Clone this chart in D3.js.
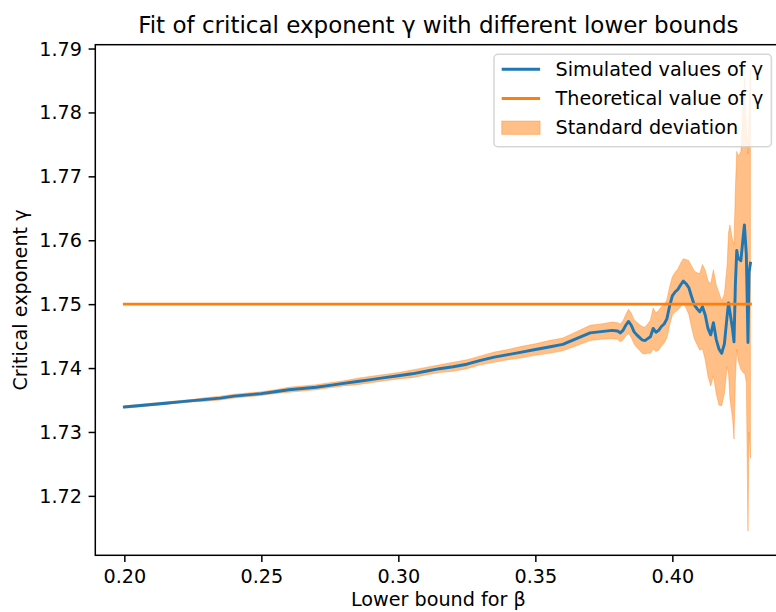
<!DOCTYPE html>
<html>
<head>
<meta charset="utf-8">
<script src="https://cdn.jsdelivr.net/npm/d3@7"></script>
<style>
  html, body { margin: 0; padding: 0; background: #ffffff; }
  svg { display: block; font-family: "DejaVu Sans", sans-serif; }
</style>
</head>
<body>
<svg id="chart" width="776" height="612"></svg>
<script>
// Lower bound of the fit window for beta
const betas = [
  0.200, 0.205, 0.210, 0.215, 0.220, 0.225, 0.230, 0.235, 0.240, 0.245,
  0.250, 0.255, 0.260, 0.265, 0.270, 0.275, 0.280, 0.285, 0.290, 0.295,
  0.300, 0.305, 0.310, 0.315, 0.320, 0.325, 0.330, 0.335, 0.340, 0.345,
  0.350, 0.355, 0.360, 0.365, 0.370, 0.374, 0.378, 0.380, 0.381, 0.382,
  0.383, 0.384, 0.385, 0.386, 0.387, 0.388, 0.389, 0.390, 0.391, 0.392,
  0.393, 0.394, 0.395, 0.396, 0.397, 0.398, 0.399, 0.400, 0.401, 0.402,
  0.403, 0.404, 0.405, 0.406, 0.407, 0.408, 0.409, 0.410, 0.411, 0.412,
  0.413, 0.414, 0.415, 0.416, 0.417, 0.418, 0.419, 0.420, 0.4205, 0.421,
  0.422, 0.4225, 0.423, 0.4235, 0.424, 0.425, 0.426, 0.4263, 0.427, 0.4276,
  0.428, 0.4285
];

// Fitted gamma for each lower bound
const gammaSim = [
  1.7339, 1.7341, 1.7343, 1.7345, 1.7347, 1.7349, 1.7351, 1.7353, 1.7356, 1.7358,
  1.7360, 1.7363, 1.7366, 1.7368, 1.7370, 1.7373, 1.7376, 1.7379, 1.7382, 1.7385,
  1.7388, 1.7391, 1.7395, 1.7399, 1.7402, 1.7406, 1.7412, 1.7417, 1.7421, 1.7425,
  1.7429, 1.7433, 1.7437, 1.7446, 1.7455, 1.7457, 1.7459, 1.7458, 1.7455, 1.7459,
  1.7467, 1.7473, 1.7467, 1.7457, 1.7452, 1.7448, 1.7444, 1.7443, 1.7446, 1.7449,
  1.7462, 1.7456, 1.7459, 1.7465, 1.7469, 1.7477, 1.7497, 1.7513, 1.7519, 1.7523,
  1.7530, 1.7536, 1.7532, 1.7526, 1.7512, 1.7499, 1.7493, 1.7488, 1.7496, 1.7483,
  1.7462, 1.7452, 1.7471, 1.7445, 1.7430, 1.7423, 1.7438, 1.7482, 1.7502, 1.7488,
  1.7460, 1.7441, 1.7530, 1.7584, 1.7572, 1.7568, 1.7612, 1.7624, 1.7578, 1.7440,
  1.7550, 1.7564
];

// Standard deviation of each fit
const gammaStd = [
  0.0002, 0.0002, 0.0002, 0.0002, 0.0002, 0.0002, 0.0003, 0.0003, 0.0003, 0.0003,
  0.0003, 0.0003, 0.0004, 0.0004, 0.0004, 0.0004, 0.0004, 0.0005, 0.0005, 0.0005,
  0.0005, 0.0006, 0.0006, 0.0006, 0.0007, 0.0007, 0.0007, 0.0008, 0.0008, 0.0009,
  0.0009, 0.0010, 0.0010, 0.0011, 0.0012, 0.0012, 0.0013, 0.0013, 0.0014, 0.0015,
  0.0017, 0.0019, 0.0019, 0.0019, 0.0020, 0.0020, 0.0021, 0.0021, 0.0023, 0.0026,
  0.0032, 0.0030, 0.0031, 0.0031, 0.0030, 0.0030, 0.0030, 0.0030, 0.0031, 0.0032,
  0.0034, 0.0035, 0.0038, 0.0042, 0.0048, 0.0053, 0.0056, 0.0060, 0.0066, 0.0070,
  0.0075, 0.0080, 0.0083, 0.0085, 0.0088, 0.0082, 0.0078, 0.0080, 0.0110, 0.0136,
  0.0140, 0.0152, 0.0150, 0.0155, 0.0160, 0.0170, 0.0220, 0.0230, 0.0200, 0.0295,
  0.0250, 0.0305
];

const gammaTheory = 1.75;

const xTicks = [0.20, 0.25, 0.30, 0.35, 0.40];
const yTicks = [1.72, 1.73, 1.74, 1.75, 1.76, 1.77, 1.78, 1.79];

const titleText = "Fit of critical exponent \u03b3 with different lower bounds";
const xLabelText = "Lower bound for \u03b2";
const yLabelText = "Critical exponent \u03b3";
const legendLabels = ["Simulated values of \u03b3", "Theoretical value of \u03b3", "Standard deviation"];

const C0 = "#1f77b4", C1 = "#ff7f0e";

// ---- layout ----
const plot = { left: 95.3, right: 781.4, top: 44.7, bottom: 555.3 };
const fs = 19.2;      // 10pt labels
const titleFs = 23;   // 12pt title
const tickLen = 6.7, tickPad = 6.7;

const svg = d3.select("#chart");

const x = d3.scaleLinear().domain([0.1894, 0.4398]).range([plot.left, plot.right]);
const y = d3.scaleLinear().domain([1.7107, 1.7906]).range([plot.bottom, plot.top]);

const rows = betas.map((b, i) => ({ b, g: gammaSim[i], s: gammaStd[i] }));

svg.append("defs").append("clipPath").attr("id", "plotClip")
  .append("rect")
  .attr("x", plot.left).attr("y", plot.top)
  .attr("width", plot.right - plot.left).attr("height", plot.bottom - plot.top);

const gPlot = svg.append("g").attr("clip-path", "url(#plotClip)");

// standard deviation band
const band = d3.area()
  .x(d => x(d.b))
  .y0(d => y(d.g - d.s))
  .y1(d => y(d.g + d.s));

gPlot.append("path")
  .datum(rows)
  .attr("d", band)
  .attr("fill", C1).attr("fill-opacity", 0.5)
  .attr("stroke", C1).attr("stroke-opacity", 0.35)
  .attr("stroke-width", 1)
  .attr("stroke-linejoin", "round");

// simulated gamma
const line = d3.line().x(d => x(d.b)).y(d => y(d.g));
gPlot.append("path")
  .datum(rows)
  .attr("d", line)
  .attr("fill", "none")
  .attr("stroke", C0).attr("stroke-width", 2.9)
  .attr("stroke-linejoin", "round").attr("stroke-linecap", "square");

// theoretical gamma
const xExt = d3.extent(betas);
gPlot.append("line")
  .attr("x1", x(xExt[0])).attr("x2", x(xExt[1]))
  .attr("y1", y(gammaTheory)).attr("y2", y(gammaTheory))
  .attr("stroke", C1).attr("stroke-width", 2.9).attr("stroke-linecap", "square");

// ---- axes ----
const xAxis = d3.axisBottom(x).tickValues(xTicks).tickFormat(d3.format(".2f"))
  .tickSizeInner(tickLen).tickSizeOuter(0).tickPadding(tickPad);
const yAxis = d3.axisLeft(y).tickValues(yTicks).tickFormat(d3.format(".2f"))
  .tickSizeInner(tickLen).tickSizeOuter(0).tickPadding(tickPad);

const gx = svg.append("g").attr("transform", `translate(0,${plot.bottom})`).call(xAxis);
const gy = svg.append("g").attr("transform", `translate(${plot.left},0)`).call(yAxis);

[gx, gy].forEach(g => {
  g.select(".domain").remove();
  g.selectAll(".tick line").attr("stroke", "#000").attr("stroke-width", 1.5);
  g.selectAll(".tick text")
    .attr("fill", "#000")
    .style("font-family", "'DejaVu Sans', sans-serif")
    .style("font-size", fs + "px");
});
gx.selectAll(".tick text").attr("dy", null).attr("y", tickLen + tickPad + 0.76 * fs);
gy.selectAll(".tick text").attr("dy", "0.34em");

// spines
svg.append("rect")
  .attr("x", plot.left).attr("y", plot.top)
  .attr("width", plot.right - plot.left).attr("height", plot.bottom - plot.top)
  .attr("fill", "none").attr("stroke", "#000").attr("stroke-width", 1.5);

// ---- labels ----
const cx = (plot.left + plot.right) / 2;
svg.append("text")
  .attr("x", cx).attr("y", 33.2)
  .attr("text-anchor", "middle")
  .style("font-size", titleFs + "px").attr("fill", "#000")
  .text(titleText);

svg.append("text")
  .attr("x", cx).attr("y", 606)
  .attr("text-anchor", "middle")
  .style("font-size", fs + "px").attr("fill", "#000")
  .text(xLabelText);

svg.append("text")
  .attr("transform", `translate(27,${(plot.top + plot.bottom) / 2}) rotate(-90)`)
  .attr("text-anchor", "middle")
  .style("font-size", fs + "px").attr("fill", "#000")
  .text(yLabelText);

// ---- legend ----
const leg = { x: 494, y: 54.3, w: 277.4, h: 92.4 };
const gLeg = svg.append("g");
gLeg.append("rect")
  .attr("x", leg.x).attr("y", leg.y).attr("width", leg.w).attr("height", leg.h)
  .attr("rx", 3.8).attr("ry", 3.8)
  .attr("fill", "#ffffff").attr("fill-opacity", 0.8)
  .attr("stroke", "#cccccc").attr("stroke-opacity", 0.8).attr("stroke-width", 1.5);

const hx0 = leg.x + 7.7, hx1 = hx0 + 38.4, tx = hx1 + 15.4;
const baselines = [76, 105.2, 134.4];

gLeg.append("line")
  .attr("x1", hx0).attr("x2", hx1)
  .attr("y1", baselines[0] - 6.7).attr("y2", baselines[0] - 6.7)
  .attr("stroke", C0).attr("stroke-width", 2.9);
gLeg.append("line")
  .attr("x1", hx0).attr("x2", hx1)
  .attr("y1", baselines[1] - 6.7).attr("y2", baselines[1] - 6.7)
  .attr("stroke", C1).attr("stroke-width", 2.9);
gLeg.append("rect")
  .attr("x", hx0).attr("y", baselines[2] - 6.7 - 6.7)
  .attr("width", hx1 - hx0).attr("height", 13.4)
  .attr("fill", C1).attr("fill-opacity", 0.5)
  .attr("stroke", C1).attr("stroke-opacity", 0.35).attr("stroke-width", 1);

legendLabels.forEach((t, i) => {
  gLeg.append("text")
    .attr("x", tx).attr("y", baselines[i])
    .style("font-size", fs + "px").attr("fill", "#000")
    .text(t);
});
</script>
</body>
</html>
